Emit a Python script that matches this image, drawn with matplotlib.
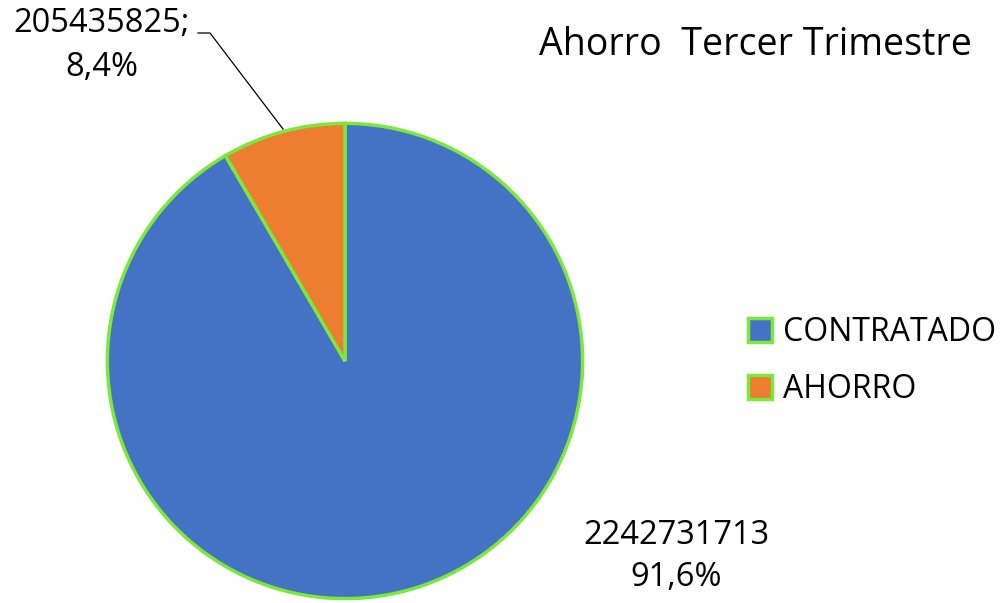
import matplotlib
matplotlib.use("Agg")
import matplotlib.pyplot as plt
from matplotlib.patches import Patch

categories = ["CONTRATADO", "AHORRO"]
values = [2242731713, 205435825]
pct_labels = ["91,6%", "8,4%"]
title = "Ahorro  Tercer Trimestre"

colors = ["#4472C4", "#ED7D31"]
edge = "#7CE83A"

plt.rcParams['font.family'] = ['Open Sans', 'DejaVu Sans']

W, H = 1000, 603
fig = plt.figure(figsize=(10, 6.03), dpi=100)
cx, cy, r = 345, 361, 240
ax = fig.add_axes([(cx - r) / W, (H - cy - r) / H, 2 * r / W, 2 * r / H])
ax.pie(values, colors=colors, startangle=90, counterclock=False,
       wedgeprops=dict(edgecolor=edge, linewidth=2.5), radius=1)
ax.set_xlim(-1.01, 1.01)
ax.set_ylim(-1.01, 1.01)
ax.set_aspect('equal')
ax.axis('off')

def px(x, y):
    return x / W, 1 - y / H

fs = 23.5
fig.text(*px(102, 24), f"{values[1]};", ha='center', va='center', fontsize=fs)
fig.text(*px(102, 68), pct_labels[1], ha='center', va='center', fontsize=fs)
fig.text(*px(676, 535), f"{values[0]}", ha='center', va='center', fontsize=fs)
fig.text(*px(676, 578), pct_labels[0], ha='center', va='center', fontsize=fs)

# leader line
xs = [198, 210, 283]
ys = [33, 33, 129]
fig.add_artist(plt.Line2D([x / W for x in xs], [1 - y / H for y in ys],
                          color='black', linewidth=0.9))

fig.text(*px(755, 45), title, ha='center', va='center', fontsize=27)

handles = [Patch(facecolor=c, edgecolor=edge, linewidth=2.5) for c in colors]
fig.legend(handles, categories, loc='center left', bbox_to_anchor=(738 / W, 1 - 361 / H),
           frameon=False, fontsize=23, handlelength=0.75, handleheight=0.75,
           handletextpad=0.35, labelspacing=0.75, borderaxespad=0, borderpad=0.3)

fig.savefig("out.png", dpi=100)
